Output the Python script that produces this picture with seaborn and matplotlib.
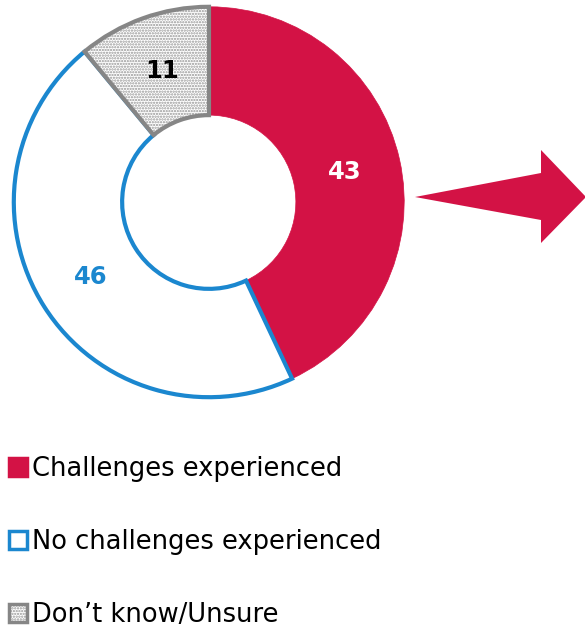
import numpy as np
import matplotlib
matplotlib.use('Agg')
import matplotlib.pyplot as plt
import seaborn as sns
from matplotlib.colors import to_rgba
from matplotlib.patches import Polygon

# data
categories = ['Challenges experienced', 'No challenges experienced', 'Don\u2019t know/Unsure']
values = [43, 46, 11]
face_colors = ['#D31245', '#FFFFFF', '#FFFFFF']
edge_colors = ['#D31245', '#1B87CF', '#868686']
label_colors = ['#FFFFFF', '#1B87CF', '#000000']

sns.set_theme(style='white')
plt.rcParams['font.family'] = ['DejaVu Sans']
plt.rcParams['hatch.linewidth'] = 1.1
plt.rcParams['text.color'] = 'black'

fig = plt.figure(figsize=(5.85, 6.27), dpi=100)

# donut axes, centre at about (209, 202) px, radius ~195 px
ax = fig.add_axes([(209 - 244) / 585, (425 - 244) / 627, 488 / 585, 488 / 627])
wedges, texts = ax.pie(values, startangle=90, counterclock=False,
                       colors=face_colors, radius=1.0,
                       wedgeprops=dict(width=0.555, linewidth=3),
                       labels=[str(v) for v in values], labeldistance=0.715,
                       textprops=dict(fontsize=17.5, fontweight='bold', ha='center', va='center'))
for w, ec in zip(wedges, edge_colors):
    w.set_edgecolor(ec)
wedges[0].set_linewidth(0.5)
# dotted fill for the unsure slice, light grey dots with a darker outline
wedges[2].set_hatch('......')
wedges[2]._hatch_color = to_rgba('#969696')
for t, c in zip(texts, label_colors):
    t.set_color(c)
ax.set_xlim(-1.25, 1.25)
ax.set_ylim(-1.25, 1.25)
ax.set_aspect('equal')

# arrow pointing right
arrow_px = [(415, 197), (541, 173), (541, 150), (586, 197), (541, 243), (541, 220)]
arrow = Polygon([(x / 585, 1 - y / 627) for x, y in arrow_px], closed=True,
                transform=fig.transFigure, facecolor='#D31245', edgecolor='none')
fig.patches.append(arrow)

# legend
leg = fig.legend(wedges, categories, loc='upper left', bbox_to_anchor=(0.0, 1 - 447 / 627),
                 frameon=False, fontsize=18.5, handlelength=0.7, handleheight=0.7,
                 handletextpad=0.2, labelspacing=1.83, borderaxespad=0, borderpad=0.35)
for h in leg.legend_handles:
    h.set_linewidth(2.5)
for t in leg.get_texts():
    t.set_color('black')

fig.savefig('out.png', dpi=100)
